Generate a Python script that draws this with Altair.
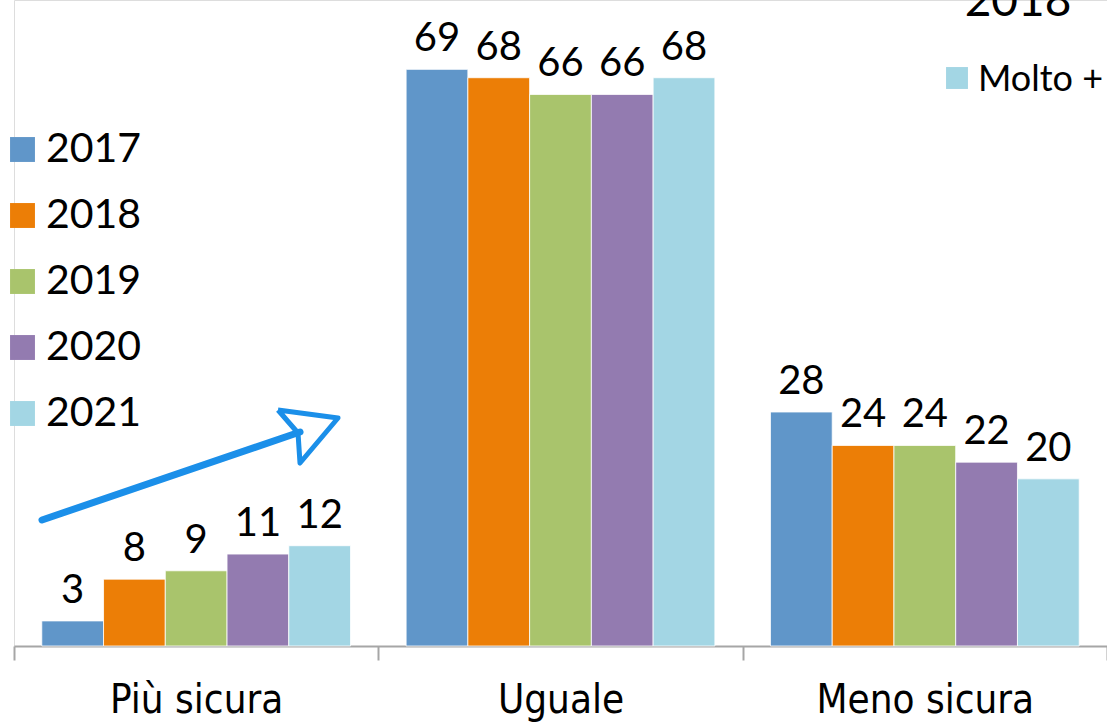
import altair as alt
import pandas as pd

categories = ["Più sicura", "Uguale", "Meno sicura"]
years = ["2017", "2018", "2019", "2020", "2021"]
values = {
    "2017": [3, 69, 28],
    "2018": [8, 68, 24],
    "2019": [9, 66, 24],
    "2020": [11, 66, 22],
    "2021": [12, 68, 20],
}
colors = ["#6096C9", "#EC7E06", "#A9C46C", "#937BB0", "#A3D6E4"]

rows = []
for y in years:
    for c, v in zip(categories, values[y]):
        rows.append({"cat": c, "year": y, "val": v})
df = pd.DataFrame(rows)

# arrow annotation (pixel coords, view space)
shaft = pd.DataFrame({"px": [28, 286], "py": [520, 432], "o": [0, 1]})
head = pd.DataFrame({"px": [264, 324, 286, 284, 264], "py": [410, 418, 463, 433, 410], "o": [0, 1, 2, 3, 4]})

FONT = "Lato"
NARROW = "DejaVu Sans Condensed, Liberation Sans Narrow, Roboto Condensed, Noto Sans, sans-serif"

x_enc = alt.X("cat:N", sort=categories, title=None,
              scale=alt.Scale(paddingInner=0, paddingOuter=0),
              axis=alt.Axis(labelFontSize=40, labelFont=NARROW, labelColor="#000000",
                            labelPadding=20, tickBand="extent", tickSize=14, labelLimit=0,
                            tickColor="#A6A6A6", tickWidth=2, domainColor="#A6A6A6",
                            domainWidth=2, labelAngle=0))
y_enc = alt.Y("val:Q", scale=alt.Scale(domain=[0, 77.3], nice=False, zero=True), axis=None)
xo = alt.XOffset("year:N", sort=years, scale=alt.Scale(paddingInner=0, paddingOuter=0.45))

bars = alt.Chart(df).mark_bar(stroke="white", strokeWidth=0.8).encode(
    x=x_enc, y=y_enc, xOffset=xo,
    color=alt.Color("year:N", sort=years, scale=alt.Scale(domain=years, range=colors),
                    legend=alt.Legend(title=None, orient="none", legendX=-12, legendY=129,
                                      padding=0,
                                      symbolType="square", symbolSize=620,
                                      symbolStrokeWidth=0, labelFontSize=41, labelFont=FONT,
                                      labelColor="#000000", rowPadding=24, labelOffset=3)),
)
labels = alt.Chart(df).mark_text(baseline="bottom", dy=-10, fontSize=40, font=FONT, color="#000000").encode(
    x=alt.X("cat:N", sort=categories), y=alt.Y("val:Q"), xOffset=alt.XOffset("year:N", sort=years),
    text="val:Q",
)

main = alt.layer(bars, labels)

arrow_shaft = alt.Chart(shaft).mark_line(color="#1B8FE9", strokeWidth=7, strokeCap="round").encode(
    x=alt.X("px:Q", scale=None, axis=None), y=alt.Y("py:Q", scale=None, axis=None), order="o:Q")
arrow_head = alt.Chart(head).mark_line(color="#1B8FE9", strokeWidth=5, strokeJoin="round").encode(
    x=alt.X("px:Q", scale=None, axis=None), y=alt.Y("py:Q", scale=None, axis=None), order="o:Q")

frag1 = alt.Chart(pd.DataFrame({"t": ["2018"]})).mark_text(
    fontSize=46, font=FONT, align="center", baseline="alphabetic", color="#000000"
).encode(x=alt.value(1004), y=alt.value(16), text="t:N")
frag_sq = alt.Chart(pd.DataFrame({"t": ["Molto +"]})).mark_square(size=480, color="#A3D6E4", opacity=1).encode(
    x=alt.value(943), y=alt.value(78))
frag2 = alt.Chart(pd.DataFrame({"t": ["Molto +"]})).mark_text(
    fontSize=36, font=FONT, align="left", baseline="middle", color="#000000"
).encode(x=alt.value(964), y=alt.value(80), text="t:N")

chart = alt.layer(main, arrow_shaft, arrow_head, frag1, frag_sq, frag2).resolve_scale(
    x="independent", y="independent"
).properties(
    width=1093, height=646,
    autosize=alt.AutoSizeParams(type="none"),
    padding={"left": 14, "top": 0, "right": 0, "bottom": 77},
).configure_view(stroke=None).configure(background="white")

chart.save("out.html", embed_options={"renderer": "svg", "actions": False})
